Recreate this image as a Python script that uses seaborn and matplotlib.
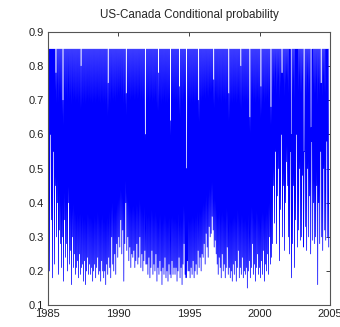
import matplotlib
matplotlib.use("Agg")
import matplotlib.pyplot as plt
import pandas as pd
import seaborn as sns
import numpy as np

# low end of each swing, one row per year (1985 .. 2004)
lows = [
    0.50, 0.20, 0.60, 0.35, 0.18, 0.55, 0.22, 0.45, 0.30, 0.40, 0.19, 0.32, 0.28, 0.21,  # 1985
    0.30, 0.17, 0.35, 0.24, 0.28, 0.20, 0.40, 0.22, 0.26, 0.16, 0.30, 0.21, 0.25, 0.19,  # 1986
    0.21, 0.23, 0.18, 0.25, 0.19, 0.21, 0.22, 0.17, 0.23, 0.16, 0.20, 0.24, 0.19, 0.22,  # 1987
    0.19, 0.21, 0.17, 0.20, 0.22, 0.18, 0.21, 0.24, 0.19, 0.20, 0.17, 0.23, 0.20, 0.18,  # 1988
    0.20, 0.16, 0.22, 0.19, 0.24, 0.21, 0.18, 0.30, 0.22, 0.20, 0.25, 0.19, 0.28, 0.24,  # 1989
    0.30, 0.27, 0.35, 0.25, 0.32, 0.17, 0.28, 0.40, 0.26, 0.30, 0.23, 0.27, 0.21, 0.25,  # 1990
    0.24, 0.26, 0.21, 0.23, 0.28, 0.22, 0.24, 0.30, 0.21, 0.25, 0.20, 0.23, 0.26, 0.22,  # 1991
    0.22, 0.19, 0.24, 0.18, 0.21, 0.26, 0.19, 0.22, 0.20, 0.25, 0.17, 0.21, 0.19, 0.23,  # 1992
    0.20, 0.16, 0.21, 0.19, 0.24, 0.18, 0.20, 0.17, 0.22, 0.19, 0.18, 0.23, 0.19, 0.21,  # 1993
    0.19, 0.21, 0.17, 0.20, 0.24, 0.18, 0.21, 0.16, 0.22, 0.28, 0.19, 0.18, 0.23, 0.20,  # 1994
    0.20, 0.18, 0.21, 0.19, 0.23, 0.18, 0.20, 0.22, 0.19, 0.26, 0.21, 0.24, 0.20, 0.25,  # 1995
    0.24, 0.28, 0.22, 0.31, 0.27, 0.24, 0.33, 0.30, 0.31, 0.36, 0.32, 0.27, 0.29, 0.25,  # 1996
    0.22, 0.19, 0.24, 0.21, 0.18, 0.25, 0.20, 0.22, 0.18, 0.21, 0.27, 0.19, 0.21, 0.18,  # 1997
    0.20, 0.17, 0.22, 0.19, 0.23, 0.17, 0.21, 0.26, 0.18, 0.21, 0.19, 0.24, 0.18, 0.20,  # 1998
    0.19, 0.21, 0.15, 0.20, 0.23, 0.18, 0.21, 0.28, 0.19, 0.22, 0.17, 0.21, 0.25, 0.19,  # 1999
    0.21, 0.18, 0.23, 0.19, 0.26, 0.17, 0.22, 0.20, 0.25, 0.19, 0.30, 0.22, 0.24, 0.28,  # 2000
    0.45, 0.34, 0.55, 0.28, 0.42, 0.50, 0.23, 0.38, 0.60, 0.30, 0.45, 0.26, 0.40, 0.52,  # 2001
    0.45, 0.30, 0.25, 0.55, 0.18, 0.28, 0.45, 0.21, 0.35, 0.60, 0.27, 0.32, 0.50, 0.29,  # 2002
    0.30, 0.48, 0.27, 0.55, 0.33, 0.26, 0.50, 0.30, 0.42, 0.25, 0.58, 0.29, 0.40, 0.28,  # 2003
    0.30, 0.45, 0.16, 0.40, 0.28, 0.55, 0.30, 0.26, 0.50, 0.32, 0.29, 0.58, 0.30, 0.27,  # 2004
]

# upper end of each swing: the probability is capped at 0.85,
# except a few swings that stop short of it
cap = 0.85
short_tops = {8: 0.78, 15: 0.70, 33: 0.80, 60: 0.75, 78: 0.72, 97: 0.60,
              110: 0.78, 122: 0.64, 131: 0.74, 138: 0.50, 150: 0.70, 165: 0.76,
              180: 0.72, 192: 0.80, 201: 0.65, 212: 0.74, 222: 0.68, 233: 0.78,
              242: 0.60, 255: 0.55, 262: 0.62, 272: 0.75}

highs = [short_tops.get(i, cap) for i in range(len(lows))]

# interleave highs and lows into one series
prob = []
for h, l in zip(highs, lows):
    prob.append(h)
    prob.append(l)
years = np.linspace(1985, 2004.9, len(prob))

df = pd.DataFrame({"year": years, "prob": prob})

sns.set_style("white")
plt.rcParams["font.family"] = ["Liberation Sans", "DejaVu Sans"]

fig = plt.figure(figsize=(3.4, 3.27), dpi=100)
ax = fig.add_axes([0.141, 0.067, 0.83, 0.835])

sns.lineplot(data=df, x="year", y="prob", ax=ax, color="#0000ff",
             linewidth=0.55, estimator=None, sort=False)

ax.set_xlim(1985, 2005)
ax.set_ylim(0.1, 0.9)
ax.set_xticks([1985, 1990, 1995, 2000, 2005])
ax.set_yticks([0.1, 0.2, 0.3, 0.4, 0.5, 0.6, 0.7, 0.8, 0.9])
ax.set_yticklabels(["0.1", "0.2", "0.3", "0.4", "0.5", "0.6", "0.7", "0.8", "0.9"])
ax.tick_params(direction="in", length=3, width=0.6, top=True, right=True,
               labelsize=8, pad=3, colors="#222222")
ax.set_xlabel("")
ax.set_ylabel("")
for s in ax.spines.values():
    s.set_color("#555555")
    s.set_linewidth(0.8)
ax.set_title("US-Canada Conditional probability", fontsize=8.4, pad=10)

fig.savefig("out.png", dpi=100)
